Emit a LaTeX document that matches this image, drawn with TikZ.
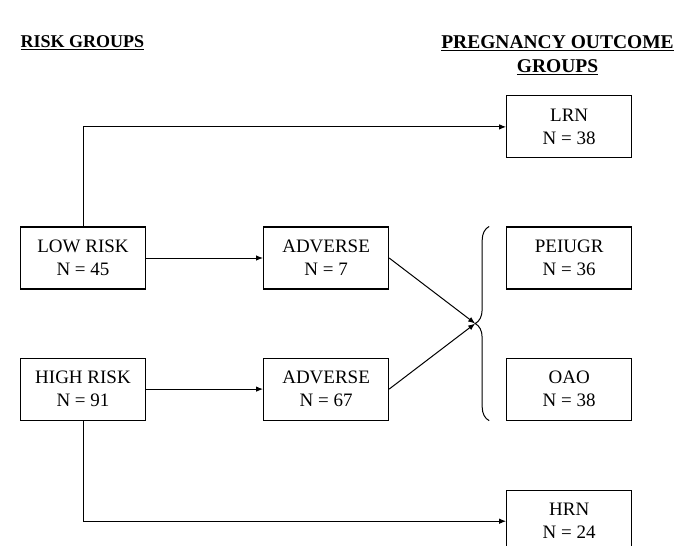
\documentclass[tikz,border=0pt]{standalone}
\usepackage{fontspec}
\setmainfont{Liberation Serif}
\usepackage{tikz}
\usetikzlibrary{arrows.meta,decorations.pathreplacing,positioning,calc}

\begin{document}
\begin{tikzpicture}[x=1pt,y=1pt,
      group/.style={draw,line width=1.1pt,minimum width=125pt,minimum height=62pt,
        align=center,font=\fontsize{19}{23}\selectfont},
      edge/.style={-{Latex[length=7pt,width=5.5pt]},line width=1pt},
      title/.style={font=\fontsize{18}{24}\selectfont\bfseries,align=center}]
      \useasboundingbox (0,0) rectangle (678,-546);
      \node[title,anchor=west] (riskhead) at (17,-43) {\underline{RISK GROUPS}};
      \node[title,font=\fontsize{19.5}{24}\selectfont\bfseries] (outhead) at (557.5,-55)
        {\underline{PREGNANCY OUTCOME}\\\underline{GROUPS}};
      \node[group] (low) at (83,-258) {LOW RISK\\N = 45};
      \node[group,below=68pt of low] (high) {HIGH RISK\\N = 91};
      \node[group,right=117pt of low] (advlow) {ADVERSE\\N = 7};
      \node[group,right=117pt of high] (advhigh) {ADVERSE\\N = 67};
      \node[group,right=117pt of advlow] (peiugr) {PEIUGR\\N = 36};
      \node[group,right=117pt of advhigh] (oao) {OAO\\N = 38};
      \node[group,above=68pt of peiugr] (lrn) {LRN\\N = 38};
      \node[group,below=69pt of oao] (hrn) {HRN\\N = 24};
      \coordinate (tip) at ($(peiugr.west)!0.5!(oao.west)+(-31pt,0)$);
      \draw[line width=1pt,decorate,decoration={brace,amplitude=14pt}]
        ([xshift=-17pt]oao.south west) -- ([xshift=-17pt]peiugr.north west);
      \draw[edge] (low) -- (advlow);
      \draw[edge] (high) -- (advhigh);
      \draw[edge] (advlow.east) -- (tip);
      \draw[edge] (advhigh.east) -- (tip);
      \draw[edge] (low.north) |- (lrn.west);
      \draw[edge] (high.south) |- (hrn.west);
    \end{tikzpicture}
\end{document}
